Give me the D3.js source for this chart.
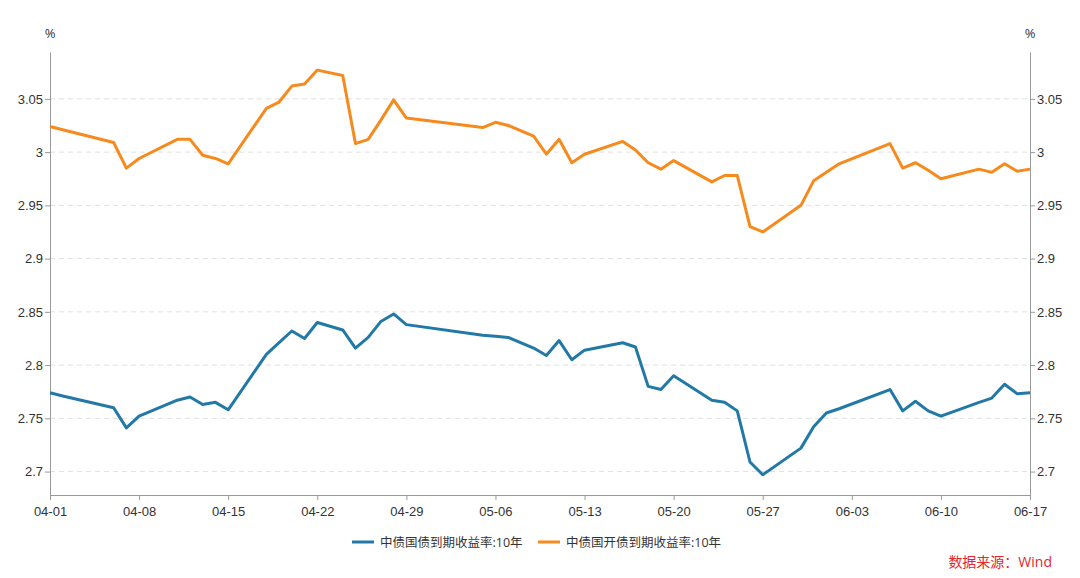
<!DOCTYPE html>
<html>
<head>
<meta charset="utf-8">
<script src="https://cdn.jsdelivr.net/npm/d3@7"></script>
<style>
  body { margin: 0; background: #fff; }
  svg { display: block; font-family: "Open Sans", "Noto Sans CJK SC", sans-serif; }
</style>
</head>
<body>
<div id="chart"></div>
<script>
// trading days, 2022
var dates = ["04-01","04-02","04-06","04-07","04-08","04-11","04-12","04-13","04-14","04-15",
  "04-18","04-19","04-20","04-21","04-22","04-24","04-25","04-26","04-27","04-28","04-29",
  "05-05","05-06","05-07","05-09","05-10","05-11","05-12","05-13","05-16","05-17","05-18",
  "05-19","05-20","05-23","05-24","05-25","05-26","05-27","05-30","05-31","06-01","06-02",
  "06-06","06-07","06-08","06-09","06-10","06-13","06-14","06-15","06-16","06-17"];

var govYield = [2.774,2.771,2.760,2.741,2.752,2.767,2.770,2.763,2.765,2.758,
  2.810,2.821,2.832,2.825,2.840,2.833,2.816,2.826,2.841,2.848,2.838,
  2.828,2.827,2.826,2.816,2.809,2.823,2.805,2.814,2.821,2.817,2.780,
  2.777,2.790,2.767,2.765,2.757,2.709,2.697,2.722,2.742,2.755,2.759,
  2.777,2.757,2.766,2.757,2.752,2.765,2.769,2.782,2.773,2.774];

var cdbYield = [3.024,3.021,3.009,2.985,2.994,3.012,3.012,2.997,2.994,2.989,
  3.041,3.047,3.062,3.064,3.077,3.072,3.008,3.012,3.030,3.049,3.032,
  3.023,3.028,3.025,3.015,2.998,3.012,2.990,2.998,3.010,3.002,2.990,
  2.984,2.992,2.972,2.978,2.978,2.930,2.925,2.950,2.973,2.981,2.989,
  3.008,2.985,2.990,2.983,2.975,2.984,2.981,2.989,2.982,2.984];

var xTicks = ["04-01","04-08","04-15","04-22","04-29","05-06","05-13","05-20","05-27","06-03","06-10","06-17"];
var yTicks = [2.7, 2.75, 2.8, 2.85, 2.9, 2.95, 3, 3.05];

var seriesNames = ["中债国债到期收益率:10年", "中债国开债到期收益率:10年"];
var seriesColors = ["#2279a6", "#f78a1d"];

var svgWidth = 1080, svgHeight = 578;
var margin = { top: 52, bottom: 83, left: 50, right: 50 };
var width = svgWidth - margin.left - margin.right;
var height = svgHeight - margin.top - margin.bottom;

var parse = d3.timeParse("%Y-%m-%d");
var toDate = s => parse("2022-" + s);

var svg = d3.select("#chart").append("svg")
  .attr("width", svgWidth)
  .attr("height", svgHeight);

var chartGroup = svg.append("g")
  .attr("transform", `translate(${margin.left}, ${margin.top})`);

var xScale = d3.scaleTime()
  .domain([toDate("04-01"), toDate("06-17")])
  .range([0, width]);

var yScale = d3.scaleLinear()
  .domain([2.678, 3.094])
  .range([height, 0]);

// grid
chartGroup.append("g")
  .selectAll("line")
  .data(yTicks)
  .enter()
  .append("line")
  .attr("x1", 0)
  .attr("x2", width)
  .attr("y1", d => yScale(d))
  .attr("y2", d => yScale(d))
  .attr("stroke", "#e0e0e0")
  .attr("stroke-dasharray", "5,4");

var fmt = d => String(+d.toFixed(2));

var leftAxis = chartGroup.append("g")
  .call(d3.axisLeft(yScale).tickValues(yTicks).tickFormat(fmt).tickSize(5).tickSizeOuter(0).tickPadding(2));

var rightAxis = chartGroup.append("g")
  .attr("transform", `translate(${width}, 0)`)
  .call(d3.axisRight(yScale).tickValues(yTicks).tickFormat(fmt).tickSize(5).tickSizeOuter(0).tickPadding(2));

var xAxis = chartGroup.append("g")
  .attr("transform", `translate(0, ${height})`)
  .call(d3.axisBottom(xScale)
    .tickValues(xTicks.map(toDate))
    .tickFormat(d3.timeFormat("%m-%d"))
    .tickSize(5).tickSizeOuter(0).tickPadding(7));

[leftAxis, rightAxis, xAxis].forEach(function(ax) {
  ax.select(".domain").attr("stroke", "#999");
  ax.selectAll(".tick line").attr("stroke", "#999");
  ax.selectAll("text").attr("fill", "#333").attr("font-size", "13px");
});

// % units
svg.append("text")
  .attr("x", margin.left)
  .attr("y", 38)
  .attr("text-anchor", "middle")
  .attr("font-size", "13px")
  .attr("fill", "#333")
  .text("%");
svg.append("text")
  .attr("x", margin.left + width)
  .attr("y", 38)
  .attr("text-anchor", "middle")
  .attr("font-size", "13px")
  .attr("fill", "#333")
  .text("%");

var line = d3.line()
  .x(d => xScale(toDate(d.date)))
  .y(d => yScale(d.value));

[govYield, cdbYield].forEach(function(vals, i) {
  var rows = dates.map((d, j) => ({ date: d, value: vals[j] }));
  chartGroup.append("path")
    .datum(rows)
    .attr("fill", "none")
    .attr("stroke", seriesColors[i])
    .attr("stroke-width", 3)
    .attr("stroke-linejoin", "round")
    .attr("d", line);
});

// legend
var legendX = [352, 538];
seriesNames.forEach(function(name, i) {
  var g = svg.append("g").attr("transform", `translate(${legendX[i]}, 542)`);
  g.append("line")
    .attr("x1", 0).attr("x2", 22)
    .attr("stroke", seriesColors[i])
    .attr("stroke-width", 3);
  g.append("text")
    .attr("x", 28)
    .attr("y", 4.5)
    .attr("font-size", "12.5px")
    .attr("fill", "#333")
    .text(name);
});

svg.append("text")
  .attr("x", 1052)
  .attr("y", 567)
  .attr("text-anchor", "end")
  .attr("font-size", "14px")
  .attr("fill", "#e3262b")
  .text("数据来源：Wind");
</script>
</body>
</html>
